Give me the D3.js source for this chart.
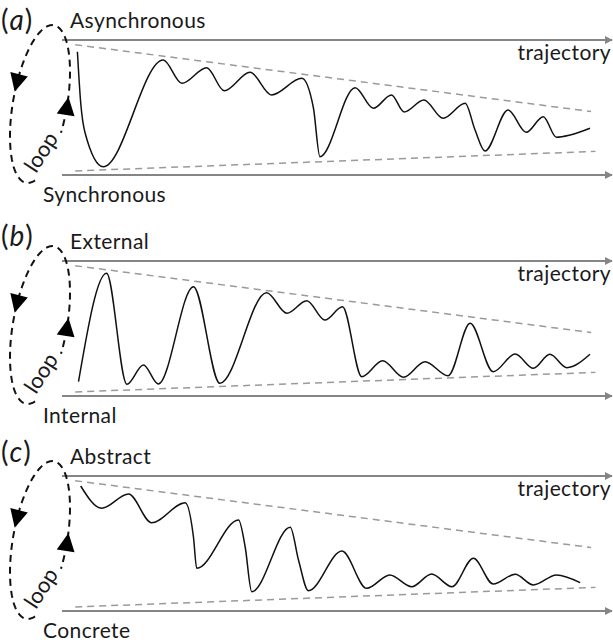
<!DOCTYPE html>
<html lang="en">
<head>
<meta charset="UTF-8">
<title>loop trajectory</title>
<script src="https://cdn.jsdelivr.net/npm/d3@7/dist/d3.min.js"></script>
<style>
    body { margin: 0; background: #fff; }
    text { font-family: Lato, "Open Sans", sans-serif; fill: #1a1a1a; }
</style>
</head>
<body>
<script>

    var panelIds = ['a', 'b', 'c'];
    var topLabels = ['Asynchronous', 'External', 'Abstract'];
    var bottomLabels = ['Synchronous', 'Internal', 'Concrete'];
    var axisLabel = 'trajectory';
    var loopLabel = 'loop';

    // readings: [position along trajectory 0-100, level 0 (bottom pole) .. 100 (top pole)]
    var curveA = [[2.8, 91.3], [3.4, 53.5], [4.2, 31.1], [7.5, 6.1], [18.4, 85.2], [21.8, 67.9],
        [26.3, 79.5], [29.5, 62.4], [34.2, 76.1], [38.1, 59.3], [43.6, 71.6], [45.7, 50],
        [46.9, 13.6], [53.3, 64.7], [56.6, 49.4], [59.9, 59.3], [62.2, 46.7], [65.8, 55.6],
        [69.3, 42.0], [73.3, 53.1], [75.1, 33.3], [76.9, 17.8], [81.1, 48.1], [84.4, 31.6],
        [87.5, 43.2], [89.9, 27.9], [92.4, 29.6], [96.0, 34.6]];
    var curveB = [[3.0, 10.6], [8.1, 90.9], [11.8, 8.7], [14.8, 23.0], [17.5, 8.9], [23.9, 81.0],
        [28.7, 9.4], [37.2, 76.5], [40.9, 61.3], [44.5, 70.6], [47.8, 56.3], [51.0, 66.1],
        [54.5, 14.3], [58.3, 26.1], [62.1, 13.9], [66.0, 25.4], [70.2, 15.0], [74.2, 53.9],
        [78.4, 18.0], [82.4, 31.1], [85.7, 20.5], [88.7, 30.9], [91.8, 21.0], [96.0, 30.9]];
    var curveC = [[3.4, 92.6], [7.2, 76.1], [12.1, 86.7], [16.3, 65.4], [22.4, 80.2], [23.9, 54.8],
        [24.5, 31.6], [32.1, 67.4], [33.3, 47.6], [34.5, 14.3], [41.5, 62.0], [43.0, 37.8],
        [44.8, 15.0], [50.9, 44.4], [55.4, 16.8], [59.6, 26.7], [63.6, 18.0], [67.2, 27.4],
        [70.9, 18.0], [74.8, 39.0], [78.4, 20.0], [82.4, 27.2], [85.7, 19.3], [89.9, 26.7],
        [94.2, 21.0]];
    var curves = [curveA, curveB, curveC];

    // narrowing band (dashed)
    var upperBound = [[2.4, 96.5], [96.2, 47]];
    var lowerBound = [[2.4, 3], [97.0, 17.5]];

    var width = 613;
    var height = 644;
    var panelTop = [40, 261, 476];
    var panelH = 135;
    var tagDy = [-10, -15, -14];
    var axisColor = '#858585';

    var svg = d3.select('body')
        .append('svg')
        .attr('width', width)
        .attr('height', height);

    var defs = svg.append('defs');
    defs.append('marker')
        .attr('id', 'arr')
        .attr('viewBox', '0 0 10 10')
        .attr('refX', 9).attr('refY', 5)
        .attr('markerWidth', 4).attr('markerHeight', 4)
        .attr('markerUnits', 'strokeWidth')
        .attr('orient', 'auto')
        .append('path')
        .attr('d', 'M0,0L10,5L0,10z')
        .attr('fill', axisColor);

    var x = d3.scaleLinear().domain([0, 100]).range([62, 612]);

    // loop ellipse geometry, relative to panel top
    var ell = {cx: 40, cy: 64, rx: 27, ry: 80, rot: 10 * Math.PI / 180};

    function ellPoint(t, top) {
        var c = Math.cos(ell.rot), s = Math.sin(ell.rot);
        var ex = ell.rx * Math.cos(t), ey = ell.ry * Math.sin(t);
        return [ell.cx + ex * c - ey * s, top + ell.cy + ex * s + ey * c];
    }

    function arrowHead(t, top) {
        var p = ellPoint(t, top);
        var q = ellPoint(t - 0.01, top);
        var dx = q[0] - p[0], dy = q[1] - p[1];
        var len = Math.sqrt(dx * dx + dy * dy);
        dx /= len; dy /= len;
        var h = 9, w = 9;
        return [
            [p[0] + dx * h, p[1] + dy * h],
            [p[0] - dx * h - dy * w, p[1] - dy * h + dx * w],
            [p[0] - dx * h + dy * w, p[1] - dy * h - dx * w]
        ];
    }

    panelIds.forEach(function (id, i) {
        var top = panelTop[i];
        var y = d3.scaleLinear().domain([0, 100]).range([top + panelH, top]);
        var g = svg.append('g').attr('class', 'panel-' + id);

        var line = d3.line()
            .x(function (d) { return x(d[0]); })
            .y(function (d) { return y(d[1]); });

        // poles
        [100, 0].forEach(function (v) {
            g.append('line')
                .attr('x1', x(0)).attr('x2', x(100))
                .attr('y1', y(v)).attr('y2', y(v))
                .attr('stroke', axisColor)
                .attr('stroke-width', 2)
                .attr('marker-end', 'url(#arr)');
        });

        // band
        [upperBound, lowerBound].forEach(function (b) {
            g.append('path')
                .attr('d', line(b))
                .attr('fill', 'none')
                .attr('stroke', '#9a9a9a')
                .attr('stroke-width', 1.5)
                .attr('stroke-dasharray', '7,5');
        });

        // trajectory curve
        g.append('path')
            .datum(curves[i])
            .attr('d', line.curve(d3.curveMonotoneX))
            .attr('fill', 'none')
            .attr('stroke', '#111')
            .attr('stroke-width', 1.5);

        // loop
        var ts = d3.range(72, 379, 2).map(function (a) { return a * Math.PI / 180; });
        g.append('path')
            .attr('d', d3.line()(ts.map(function (t) { return ellPoint(t, top); })))
            .attr('fill', 'none')
            .attr('stroke', '#111')
            .attr('stroke-width', 2)
            .attr('stroke-dasharray', '7,5');

        [192 * Math.PI / 180, -2 * Math.PI / 180].forEach(function (t) {
            g.append('path')
                .attr('d', 'M' + arrowHead(t, top).join('L') + 'Z')
                .attr('fill', '#000');
        });

        g.append('text')
            .attr('transform', 'translate(' + (ell.cx + 1) + ',' + (top + 112) + ') rotate(-57)')
            .attr('text-anchor', 'middle')
            .attr('dy', '0.35em')
            .attr('font-size', 22)
            .text(loopLabel);

        // labels
        var tag = g.append('text')
            .attr('x', 1)
            .attr('y', top + tagDy[i])
            .attr('font-size', 28);
        tag.append('tspan').text('(');
        tag.append('tspan').attr('font-style', 'italic').attr('dx', 1).text(id);
        tag.append('tspan').attr('dx', 1).text(')');

        var big = {'font-size': 21, 'letter-spacing': 0.4};

        g.append('text')
            .attr('x', 70).attr('y', top - 12)
            .attr('font-size', big['font-size'])
            .attr('letter-spacing', big['letter-spacing'])
            .text(topLabels[i]);

        g.append('text')
            .attr('x', 43).attr('y', top + panelH + 27)
            .attr('font-size', big['font-size'])
            .attr('letter-spacing', big['letter-spacing'])
            .text(bottomLabels[i]);

        g.append('text')
            .attr('x', 611).attr('y', top + 20)
            .attr('text-anchor', 'end')
            .attr('font-size', big['font-size'])
            .attr('letter-spacing', big['letter-spacing'])
            .text(axisLabel);
    });

</script>
</body>
</html>
